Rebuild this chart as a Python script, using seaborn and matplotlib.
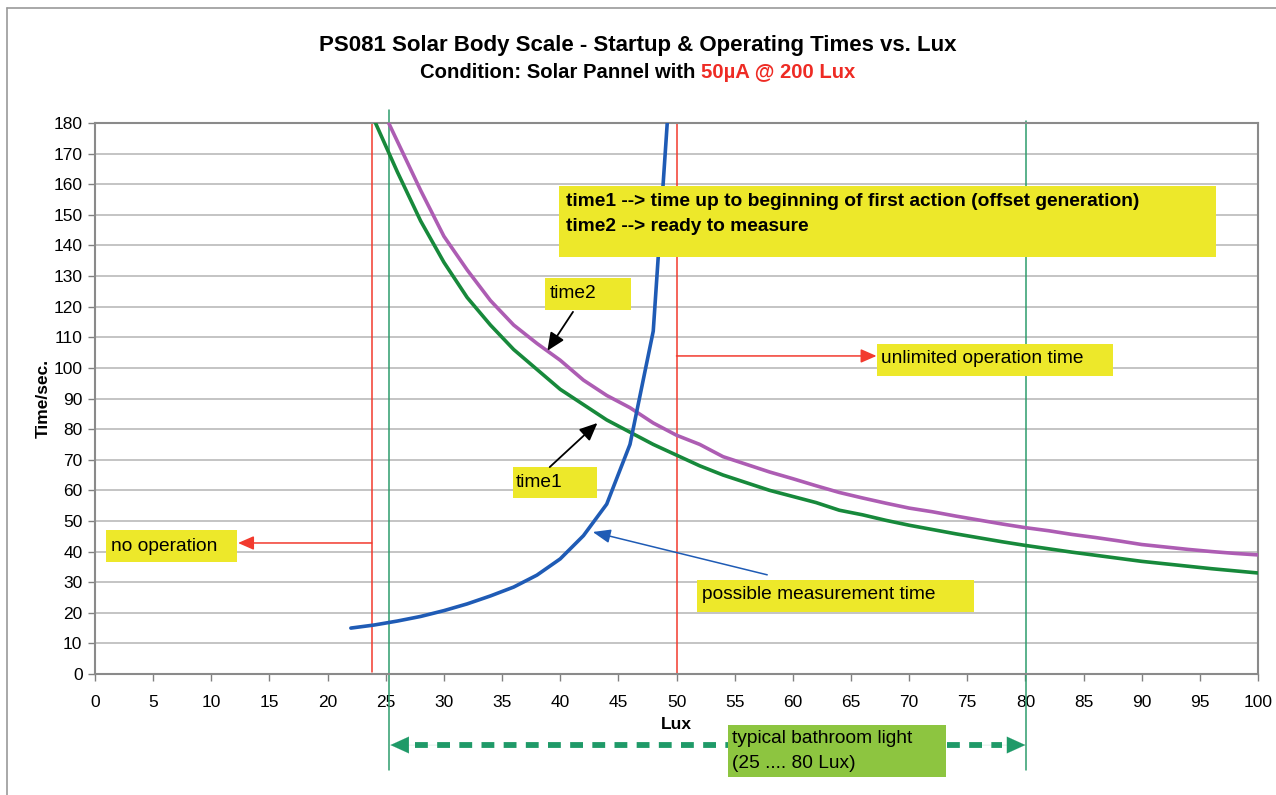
import matplotlib
matplotlib.use("Agg")
import matplotlib.pyplot as plt
import seaborn as sns
import pandas as pd
from matplotlib.patches import Rectangle
from matplotlib.lines import Line2D

# ---------------- data ----------------
lux_t = [22, 24, 26, 28, 30, 32, 34, 36, 38, 40, 42, 44, 46, 48, 50, 52, 54, 56, 58, 60,
         62, 64, 66, 68, 70, 72, 74, 76, 78, 80, 82, 84, 86, 88, 90, 92, 94, 96, 98, 100]
time1 = [205, 181, 164, 148, 134.5, 123, 114, 106, 99.5, 93, 88, 83, 79, 75, 71.5, 68, 65,
         62.5, 60, 58, 56, 53.5, 52, 50.2, 48.6, 47.2, 45.8, 44.5, 43.2, 42, 40.9, 39.8,
         38.8, 37.8, 36.8, 36, 35.2, 34.4, 33.7, 33]
time2 = [205, 190, 174, 158, 143, 132, 122, 114, 108, 102.5, 96, 91, 87, 82, 78, 75, 71,
         68.5, 66, 63.8, 61.5, 59.3, 57.5, 55.8, 54.2, 53, 51.6, 50.3, 49, 47.8, 46.8, 45.6,
         44.6, 43.5, 42.3, 41.5, 40.7, 40, 39.4, 38.9]
lux_m = [22, 24, 26, 28, 30, 32, 34, 36, 38, 40, 42, 44, 46, 48, 50]
meas_time = [15, 16, 17.3, 18.8, 20.7, 22.9, 25.5, 28.4, 32.3, 37.6, 45.2, 55.5, 75, 112, 225]

x_ticks = list(range(0, 101, 5))
y_ticks = list(range(0, 181, 10))

title = "PS081 Solar Body Scale - Startup & Operating Times vs. Lux"
sub_black = "Condition: Solar Pannel with "
sub_red = "50µA @ 200 Lux"

# ---------------- style ----------------
sns.set_theme(style="white")
plt.rcParams["font.family"] = ["Liberation Sans", "DejaVu Sans"]
plt.rcParams["text.color"] = "black"
plt.rcParams["axes.labelcolor"] = "black"

W, H = 1276, 795
fig = plt.figure(figsize=(W / 100, H / 100), dpi=100)
ax = fig.add_axes([95 / W, 1 - 674 / H, (1258 - 95) / W, (674 - 123) / H])

df1 = pd.DataFrame({"lux": lux_t, "t": time1})
df2 = pd.DataFrame({"lux": lux_t, "t": time2})
df3 = pd.DataFrame({"lux": lux_m, "t": meas_time})

GREEN = "#17893b"
PURPLE = "#ad5db3"
BLUE = "#1f5bb5"
YELLOW = "#ede82a"
RED = "#f23a2e"
VGREEN = "#2e9c6c"
FS = 13.8

# grid
for yv in y_ticks[1:]:
    ax.axhline(yv, color="#b4b4b4", lw=1.1, zorder=0)

sns.lineplot(data=df1, x="lux", y="t", ax=ax, color=GREEN, lw=2.6, zorder=3)
sns.lineplot(data=df2, x="lux", y="t", ax=ax, color=PURPLE, lw=2.6, zorder=3)
sns.lineplot(data=df3, x="lux", y="t", ax=ax, color=BLUE, lw=2.6, zorder=4)

ax.set_xlim(0, 100)
ax.set_ylim(0, 180)
ax.set_xticks(x_ticks)
ax.set_yticks(y_ticks)
ax.tick_params(axis="both", which="both", direction="out", length=5, width=1,
               color="#808080", labelsize=12.5, pad=4, labelcolor="black")
ax.tick_params(axis="x", bottom=True, pad=10)
ax.tick_params(axis="y", left=True)
for s in ax.spines.values():
    s.set_color("#8a8a8a")
    s.set_linewidth(1.5)
ax.set_xlabel("Lux", fontsize=12.5, fontweight="bold", labelpad=5)
ax.set_ylabel("Time/sec.", fontsize=12.5, fontweight="bold", labelpad=2)

# ---------------- reference lines ----------------
ax.plot([23.8, 23.8], [0.8, 180], color=RED, lw=1.1, zorder=2, clip_on=False)
ax.plot([50.0, 50.0], [0, 180], color=RED, lw=1.1, zorder=2, clip_on=False)
ax.plot([25.3, 25.3], [-31.4, 184.3], color=VGREEN, lw=1.1, zorder=2, clip_on=False)
ax.plot([80.05, 80.05], [-31.4, 180.5], color=VGREEN, lw=1.1, zorder=2, clip_on=False)

# red arrows
ax.annotate("", xy=(12.3, 42.8), xytext=(23.8, 42.8),
            arrowprops=dict(arrowstyle="-|>,head_length=0.8,head_width=0.35",
                            color=RED, lw=1.1, shrinkA=0, shrinkB=0), zorder=5)
ax.annotate("", xy=(67.2, 103.9), xytext=(50.0, 103.9),
            arrowprops=dict(arrowstyle="-|>,head_length=0.8,head_width=0.35",
                            color=RED, lw=1.1, shrinkA=0, shrinkB=0), zorder=5)

# bathroom dashed double arrow (outside axes)
yb = -23.2
ax.plot([27.5, 78.0], [yb, yb], color="#1f9a68", lw=4.2, ls=(0, (2.2, 1.6)),
        clip_on=False, zorder=5, solid_capstyle="butt", dash_capstyle="butt")
for xa, xt in [(25.4, 29.5), (80.0, 76.0)]:
    ax.annotate("", xy=(xa, yb), xytext=(xt, yb), annotation_clip=False,
                arrowprops=dict(arrowstyle="-|>,head_length=1.1,head_width=0.5",
                                color="#1f9a68", lw=0.1, shrinkA=0, shrinkB=0))


# ---------------- boxes ----------------
def box(x0, x1, y0, y1, color=YELLOW):
    r = Rectangle((x0, y0), x1 - x0, y1 - y0, facecolor=color, edgecolor="none",
                  zorder=6, clip_on=False)
    ax.add_patch(r)


box(39.9, 96.4, 136.2, 159.4)
ax.text(40.5, 154.4, "time1 --> time up to beginning of first action (offset generation)",
        fontsize=FS, fontweight="bold", va="center", ha="left", zorder=7)
ax.text(40.5, 146.3, "time2 --> ready to measure",
        fontsize=FS, fontweight="bold", va="center", ha="left", zorder=7)

box(38.7, 46.1, 118.9, 129.4)
ax.text(39.1, 124.4, "time2", fontsize=FS, va="center", ha="left", zorder=7)

box(35.9, 43.2, 57.5, 67.6)
ax.text(36.2, 62.4, "time1", fontsize=FS, va="center", ha="left", zorder=7)

box(0.95, 12.2, 36.6, 47.0)
ax.text(1.35, 41.7, "no operation", fontsize=FS, va="center", ha="left", zorder=7)

box(67.2, 87.5, 97.4, 107.8)
ax.text(67.6, 103.2, "unlimited operation time", fontsize=FS, va="center",
        ha="left", zorder=7)

box(51.8, 75.6, 20.3, 30.7)
ax.text(52.2, 26.1, "possible measurement time", fontsize=FS, va="center",
        ha="left", zorder=7)

box(54.4, 73.2, -33.6, -16.7, color="#8dc540")
ax.text(54.8, -21.1, "typical bathroom light", fontsize=FS, va="center",
        ha="left", zorder=7, clip_on=False)
ax.text(54.8, -29.3, "(25 .... 80 Lux)", fontsize=FS, va="center",
        ha="left", zorder=7, clip_on=False)

# black arrows
ax.annotate("", xy=(38.9, 105.6), xytext=(41.1, 118.3),
            arrowprops=dict(arrowstyle="-|>,head_length=0.9,head_width=0.4",
                            color="black", lw=1.3, shrinkA=0, shrinkB=0), zorder=8)
ax.annotate("", xy=(43.2, 82.0), xytext=(39.1, 67.6),
            arrowprops=dict(arrowstyle="-|>,head_length=0.9,head_width=0.4",
                            color="black", lw=1.3, shrinkA=0, shrinkB=0), zorder=8)
# blue arrow
ax.annotate("", xy=(42.8, 46.4), xytext=(57.8, 32.4),
            arrowprops=dict(arrowstyle="-|>,head_length=0.9,head_width=0.35",
                            color=BLUE, lw=1.1, shrinkA=0, shrinkB=0), zorder=8)

# ---------------- titles ----------------
fig.text(0.5, 1 - 46 / H, title, ha="center", va="center", fontsize=16,
         fontweight="bold")
t1 = fig.text(0, 1 - 72 / H, sub_black, ha="left", va="center", fontsize=14.6,
              fontweight="bold")
t2 = fig.text(0, 1 - 72 / H, sub_red, ha="left", va="center", fontsize=14.6,
              fontweight="bold", color="#ee2b24")
fig.canvas.draw()
r = fig.canvas.get_renderer()
w1 = t1.get_window_extent(r).width
w2 = t2.get_window_extent(r).width
x0 = (W - (w1 + w2)) / 2
t1.set_x(x0 / W)
t2.set_x((x0 + w1) / W)

# page frame
fig.add_artist(Line2D([7 / W, 7 / W], [0, 1 - 8 / H], color="#9a9a9a", lw=1.2,
                      transform=fig.transFigure))
fig.add_artist(Line2D([7 / W, 1], [1 - 8 / H, 1 - 8 / H], color="#9a9a9a", lw=1.2,
                      transform=fig.transFigure))

fig.savefig("out.png", dpi=100)
